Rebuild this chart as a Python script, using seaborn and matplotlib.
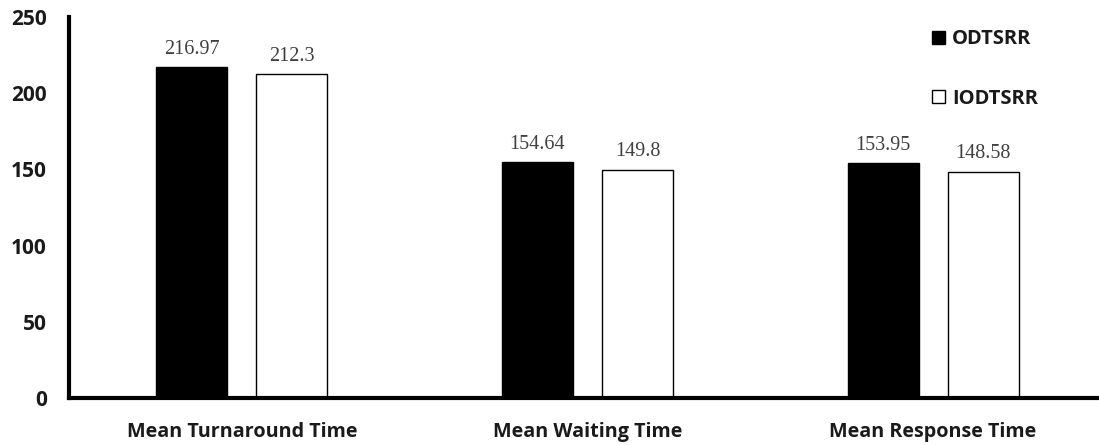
import matplotlib
matplotlib.use("Agg")
import matplotlib.pyplot as plt
import pandas as pd
import seaborn as sns

categories = ["Mean Turnaround Time", "Mean Waiting Time", "Mean Response Time"]
series = ["ODTSRR", "IODTSRR"]
odtsrr = [216.97, 154.64, 153.95]
iodtsrr = [212.3, 149.8, 148.58]
label_text = {"ODTSRR": ["216.97", "154.64", "153.95"],
              "IODTSRR": ["212.3", "149.8", "148.58"]}

df = pd.DataFrame({
    "Metric": categories * 2,
    "Algorithm": [series[0]] * 3 + [series[1]] * 3,
    "Value": odtsrr + iodtsrr,
})

sns.set_style("white")
plt.rcParams["font.family"] = ["Open Sans", "DejaVu Sans"]

fig = plt.figure(figsize=(10.99, 4.45), dpi=100)
ax = fig.add_axes([0.0628, 0.1056, 0.9372, 0.8562])

sns.barplot(
    data=df, x="Metric", y="Value", hue="Algorithm",
    palette={"ODTSRR": "black", "IODTSRR": "white"},
    width=0.578, gap=0.29, edgecolor="black", linewidth=1,
    ax=ax,
)

# value labels above each bar
for container, name in zip(ax.containers, series):
    ax.bar_label(container, labels=label_text[name], padding=6,
                 fontsize=14.5, color="#404040", family="Liberation Serif")

ax.set_ylim(0, 250)
ax.set_xlim(-0.5, 2.48)
ax.set_yticks(range(0, 251, 50))
ax.set_xlabel("")
ax.set_ylabel("")
ax.tick_params(axis="both", length=0, colors="#1a1a1a")
ax.tick_params(axis="x", pad=17, labelsize=14.2)
ax.tick_params(axis="y", pad=16, labelsize=15)
for lab in ax.get_xticklabels() + ax.get_yticklabels():
    lab.set_fontweight("bold")

sns.despine(ax=ax)
ax.spines["left"].set_linewidth(3)
ax.spines["bottom"].set_linewidth(3)
ax.spines["left"].set_color("black")
ax.spines["bottom"].set_color("black")

handles, labels = ax.get_legend_handles_labels()
leg = ax.legend(
    handles, labels, loc="upper left", bbox_to_anchor=(0.82, 1.015),
    frameon=False, handlelength=0.65, handleheight=0.65, handletextpad=0.35,
    labelspacing=1.95, prop={"family": "Open Sans", "weight": "bold", "size": 14.5},
)
for t in leg.get_texts():
    t.set_color("#1a1a1a")

fig.savefig("out.png", dpi=100)
